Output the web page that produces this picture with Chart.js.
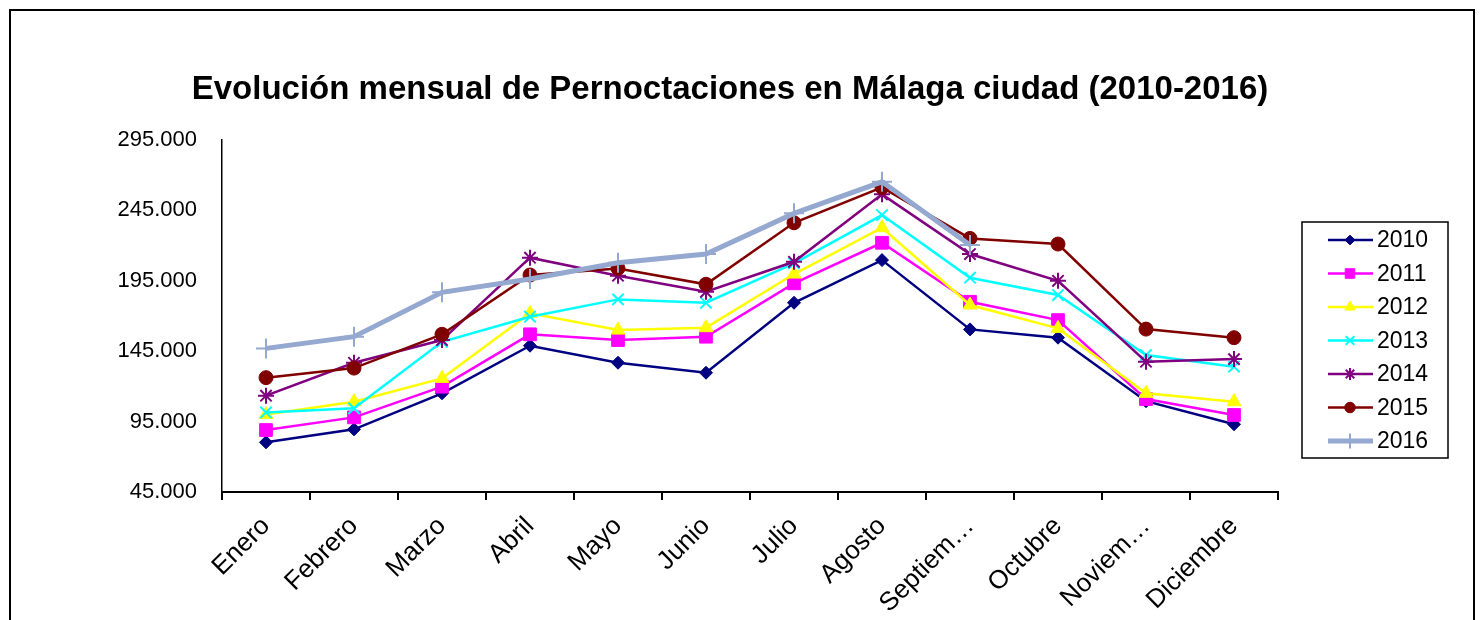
<!DOCTYPE html>
<html>
<head>
<meta charset="utf-8">
<script src="https://cdn.jsdelivr.net/npm/chart.js@4/dist/chart.umd.min.js"></script>
<style>
  body { margin: 0; background: #fff; }
  #wrap { position: relative; width: 1484px; height: 620px; overflow: hidden; }
  #frame { position: absolute; left: 9px; top: 9px; width: 1462px; height: 700px; border: 2px solid #000; }
  canvas { position: absolute; left: 0; top: 0; }
</style>
</head>
<body>
<div id="wrap">
  <div id="frame"></div>
  <canvas id="chart" width="1484" height="620"></canvas>
</div>
<script>
const months = ['Enero', 'Febrero', 'Marzo', 'Abril', 'Mayo', 'Junio', 'Julio', 'Agosto', 'Septiembre', 'Octubre', 'Noviembre', 'Diciembre'];
const monthTicks = ['Enero', 'Febrero', 'Marzo', 'Abril', 'Mayo', 'Junio', 'Julio', 'Agosto', 'Septiem\u2026', 'Octubre', 'Noviem\u2026', 'Diciembre'];
const years = ['2010', '2011', '2012', '2013', '2014', '2015', '2016'];

const v2010 = [80300, 89500, 115100, 148900, 136800, 129700, 179400, 209700, 160500, 154600, 109500, 93100];
const v2011 = [89000, 98000, 119800, 157000, 152900, 155300, 193200, 222000, 180100, 167100, 111000, 99700];
const v2012 = [100000, 109100, 125700, 171900, 160000, 161700, 199800, 232700, 177800, 161200, 115100, 109100];
const v2013 = [101500, 104400, 151700, 169500, 181800, 179400, 207400, 241700, 197200, 184900, 142300, 134000];
const v2014 = [113400, 136800, 152900, 211400, 198600, 187200, 208500, 256400, 214000, 195000, 137500, 139400];
const v2015 = [126200, 133000, 157000, 199100, 203800, 192500, 236200, 261300, 225100, 221100, 160700, 154600];
const v2016 = [147000, 155300, 186800, 196300, 207800, 214000, 242900, 265300, 220400, null, null, null];

const yTicks = [45000, 95000, 145000, 195000, 245000, 295000];

const series = [v2010, v2011, v2012, v2013, v2014, v2015, v2016];
const colors = ['#000080', '#ff00ff', '#ffff00', '#00ffff', '#800080', '#800000', '#94a8d0'];
const styles = ['rectRot', 'rect', 'triangle', 'crossRot', 'star', 'circle', 'cross'];
const radii = [6.5, 9, 8, 8, 8, 7, 10];
const lineW = [2.5, 2.5, 2.5, 2.5, 2.5, 2.5, 5];

const fmt = v => String(v).replace(/\B(?=(\d{3})+(?!\d))/g, '.');

const datasets = years.map((y, i) => ({
  label: y,
  data: series[i],
  borderColor: colors[i],
  backgroundColor: colors[i],
  borderWidth: lineW[i],
  pointStyle: styles[i],
  pointRadius: radii[i],
  pointBorderWidth: (styles[i] === 'crossRot' || styles[i] === 'star' || styles[i] === 'cross') ? 2 : 1,
  pointBackgroundColor: colors[i],
  pointBorderColor: colors[i],
  tension: 0,
  spanGaps: false,
  order: 6 - i
}));

// legend box drawn to look like the Excel one (line + marker)
const excelLegend = {
  id: 'excelLegend',
  afterDraw(chart) {
    const ctx = chart.ctx;
    const bx = 1302, by = 222, bw = 146, bh = 236;
    ctx.save();
    ctx.fillStyle = '#fff';
    ctx.fillRect(bx, by, bw, bh);
    ctx.strokeStyle = '#000';
    ctx.lineWidth = 1.5;
    ctx.strokeRect(bx, by, bw, bh);
    ctx.font = '23px "Liberation Sans", Arial, sans-serif';
    ctx.textBaseline = 'middle';
    chart.data.datasets.forEach((ds, i) => {
      const y = 240 + i * 33.5;
      ctx.strokeStyle = ds.borderColor;
      ctx.lineWidth = ds.borderWidth;
      ctx.beginPath();
      ctx.moveTo(1328, y);
      ctx.lineTo(1373, y);
      ctx.stroke();
      ctx.fillStyle = ds.backgroundColor;
      ctx.lineWidth = ds.pointBorderWidth;
      Chart.helpers.drawPoint(ctx, {
        pointStyle: ds.pointStyle,
        rotation: 0,
        radius: ds.pointRadius * 0.75,
        borderWidth: ds.pointBorderWidth
      }, 1350, y);
      ctx.fillStyle = '#000';
      ctx.fillText(ds.label, 1377, y + 1);
    });
    ctx.restore();
  }
};

new Chart(document.getElementById('chart'), {
  type: 'line',
  data: { labels: months, datasets: datasets },
  plugins: [excelLegend],
  options: {
    responsive: false,
    animation: false,
    layout: { padding: { left: 0, right: 24, top: 0, bottom: 0 } },
    plugins: {
      legend: { display: false },
      tooltip: { enabled: false },
      title: {
        display: true,
        text: 'Evolución mensual de Pernoctaciones en Málaga ciudad (2010-2016)',
        color: '#000',
        font: { family: '"Liberation Sans", Arial, sans-serif', size: 33, weight: 'bold', lineHeight: 1.2 },
        padding: { top: 70, bottom: 30.4 }
      }
    },
    scales: {
      x: {
        type: 'category',
        offset: true,
        grid: { offset: true, drawOnChartArea: false, drawTicks: true, tickLength: 8, color: '#000', lineWidth: 2 },
        border: { display: true, color: '#000', width: 2 },
        ticks: {
          autoSkip: false,
          minRotation: 45,
          maxRotation: 45,
          padding: 11,
          color: '#000',
          font: { family: '"Liberation Sans", Arial, sans-serif', size: 26 },
          callback: (v, i) => monthTicks[i]
        },
        afterFit: s => { s.height = 128; }
      },
      y: {
        min: 45000,
        max: 295000,
        afterBuildTicks: s => { s.ticks = yTicks.map(v => ({ value: v })); },
        grid: { display: true, drawOnChartArea: false, drawTicks: false },
        border: { display: true, color: '#000', width: 1.5 },
        ticks: {
          padding: 25,
          color: '#000',
          font: { family: '"Liberation Sans", Arial, sans-serif', size: 22 },
          callback: v => fmt(v)
        },
        afterFit: s => { s.width = 222; }
      },
      pad: {
        position: 'right',
        display: true,
        grid: { display: false },
        border: { display: false },
        ticks: { display: false },
        afterFit: s => { s.width = 182; }
      }
    }
  }
});
</script>
</body>
</html>
